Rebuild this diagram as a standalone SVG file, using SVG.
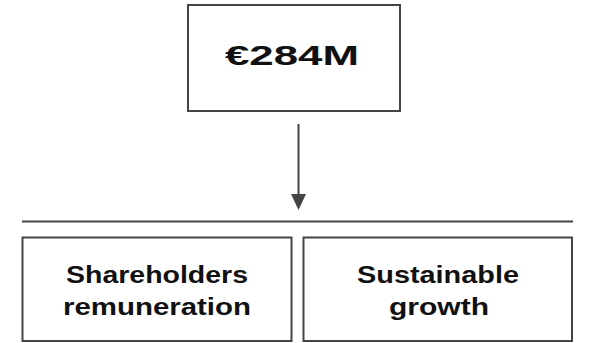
<svg xmlns="http://www.w3.org/2000/svg" width="592" height="343" viewBox="0 0 592 343">
<style>
.box{fill:#fff;stroke:#444;stroke-width:2}
.t{font-family:"Liberation Sans",Arial,sans-serif;font-weight:bold;fill:#111;text-anchor:middle}
.con{stroke:#444;stroke-width:2;fill:none}
</style>
<rect width="592" height="343" fill="#fff"/>
<g id="top">
<rect class="box" x="188" y="5" width="212" height="106"/>
<text class="t" x="292" y="65" font-size="28" textLength="134" lengthAdjust="spacingAndGlyphs">€284M</text>
</g>
<g id="connectors">
<line class="con" x1="298.5" y1="124" x2="298.5" y2="198"/>
<path d="M291,194 L306,194 L298.5,210 z" fill="#444"/>
<line class="con" x1="22" y1="221.5" x2="573" y2="221.5"/>
</g>
<g id="shareholders">
<rect class="box" x="22.5" y="237.5" width="269" height="103.5"/>
<text class="t" x="157" y="283" font-size="23" textLength="182" lengthAdjust="spacingAndGlyphs">Shareholders</text>
<text class="t" x="157" y="315" font-size="23" textLength="188" lengthAdjust="spacingAndGlyphs">remuneration</text>
</g>
<g id="growth">
<rect class="box" x="303.5" y="237.5" width="268.5" height="103.5"/>
<text class="t" x="438" y="283" font-size="23" textLength="162" lengthAdjust="spacingAndGlyphs">Sustainable</text>
<text class="t" x="439" y="315" font-size="23" textLength="100" lengthAdjust="spacingAndGlyphs">growth</text>
</g>
</svg>
